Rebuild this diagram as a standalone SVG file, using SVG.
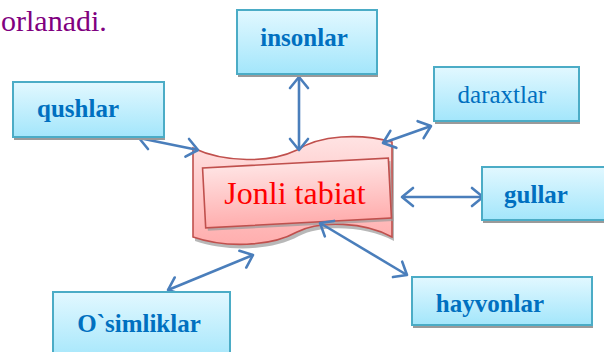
<svg xmlns="http://www.w3.org/2000/svg" width="604" height="352" viewBox="0 0 604 352">
<defs>
<linearGradient id="boxGrad" x1="0" y1="0" x2="0" y2="1">
<stop offset="0" stop-color="#e2f8ff"/>
<stop offset="1" stop-color="#a3e6fb"/>
</linearGradient>
<linearGradient id="pinkGrad" x1="0" y1="0" x2="0" y2="1">
<stop offset="0" stop-color="#ffe3e3"/>
<stop offset="1" stop-color="#ffaeae"/>
</linearGradient>
<marker id="arr" viewBox="-13 -11 16 22" refX="0" refY="0" markerWidth="16" markerHeight="22" markerUnits="userSpaceOnUse" orient="auto-start-reverse">
<path d="M-11,-9 L0,0 L-11,9" fill="none" stroke="#4a7ebb" stroke-width="2.6" stroke-linecap="round" stroke-linejoin="round"/>
</marker>
</defs>
<style>
.box{fill:url(#boxGrad);stroke:#4bacc6;stroke-width:2}
.shadow{fill:#9a9a9a}
.lbl{font-family:"Liberation Serif","Times New Roman",serif;font-size:25px;font-weight:bold;fill:#0070c0}
.lblr{font-family:"Liberation Serif","Times New Roman",serif;font-size:25px;fill:#0070c0}
.conn{fill:none;stroke:#4a7ebb;stroke-width:2.6;marker-start:url(#arr);marker-end:url(#arr)}
.pink{fill:url(#pinkGrad);stroke:#c0504d;stroke-width:1.6}
</style>

<text x="1" y="31" font-family="Liberation Serif, Times New Roman, serif" font-size="30" fill="#800080">orlanadi.</text>

<g id="node-jonli-tabiat">
<path class="shadow" opacity="0.7" transform="translate(2,4)" d="M193,148 C225,163 270,163 297,150 C320,135 360,133 392,142 L392,237 C365,222 320,220 297,232 C270,247 225,248 193,237 Z"/>
<path class="pink" d="M193,148 C225,163 270,163 297,150 C320,135 360,133 392,142 L392,237 C365,222 320,220 297,232 C270,247 225,248 193,237 Z"/>
<g transform="rotate(-3 297 193)">
<rect class="shadow" opacity="0.7" x="206" y="166" width="186" height="60"/>
<rect class="pink" x="204" y="163" width="186" height="60"/>
</g>
<text x="295" y="204" text-anchor="middle" font-family="Liberation Serif, Times New Roman, serif" font-size="32" fill="#ff0000">Jonli tabiat</text>
</g>

<g id="connectors">
<line class="conn" x1="299" y1="77" x2="299" y2="150"/>
<line class="conn" x1="139" y1="138" x2="198" y2="150"/>
<line class="conn" x1="383" y1="143" x2="431" y2="126"/>
<line class="conn" x1="402" y1="197" x2="483" y2="197"/>
<line class="conn" x1="320" y1="223" x2="407" y2="275"/>
<line class="conn" x1="168" y1="290" x2="253" y2="255"/>
</g>

<g id="node-insonlar">
<rect class="shadow" x="238" y="13" width="140" height="64"/>
<rect class="box" x="237" y="10" width="140" height="64"/>
<text class="lbl" x="304" y="46" text-anchor="middle">insonlar</text>
</g>

<g id="node-qushlar">
<rect class="shadow" x="14" y="85" width="151" height="55"/>
<rect class="box" x="13" y="82" width="151" height="55"/>
<text class="lbl" x="78" y="117" text-anchor="middle">qushlar</text>
</g>

<g id="node-daraxtlar">
<rect class="shadow" x="435" y="70" width="145" height="54"/>
<rect class="box" x="434" y="67" width="145" height="54"/>
<text class="lblr" x="502" y="103" text-anchor="middle">daraxtlar</text>
</g>

<g id="node-gullar">
<rect class="shadow" x="483" y="170" width="130" height="53"/>
<rect class="box" x="482" y="167" width="130" height="53"/>
<text class="lbl" x="536" y="203" text-anchor="middle">gullar</text>
</g>

<g id="node-osimliklar">
<rect class="shadow" x="54" y="295" width="177" height="70"/>
<rect class="box" x="53" y="292" width="177" height="70"/>
<text class="lbl" x="139" y="332" text-anchor="middle">O`simliklar</text>
</g>

<g id="node-hayvonlar">
<rect class="shadow" x="413" y="280" width="180" height="48"/>
<rect class="box" x="412" y="277" width="180" height="48"/>
<text class="lbl" x="490" y="312" text-anchor="middle">hayvonlar</text>
</g>
</svg>
